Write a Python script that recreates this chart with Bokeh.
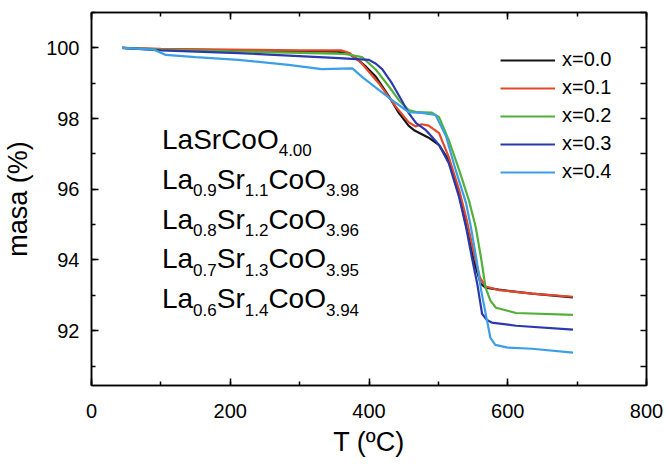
from bokeh.plotting import figure
from bokeh.models import LinearAxis, SingleIntervalTicker, Legend, LegendItem, Label
from bokeh.embed import file_html
from bokeh.resources import INLINE

# ---------------- data ----------------
temp_x00 = [44, 100, 200, 300, 355, 371, 385, 396, 410, 429, 443, 457, 465, 472, 486, 501, 515, 530, 540, 551, 561, 568, 587, 635, 694]
mass_x00 = [100.0, 99.96, 99.93, 99.91, 99.89, 99.84, 99.65, 99.46, 99.18, 98.62, 98.16, 97.8, 97.67, 97.6, 97.46, 97.25, 96.82, 95.83, 94.98, 93.99, 93.33, 93.22, 93.16, 93.05, 92.94]

temp_x01 = [44, 100, 200, 300, 360, 372, 390, 414, 439, 457, 467, 476, 486, 501, 515, 530, 540, 550, 560, 568, 587, 635, 694]
mass_x01 = [100.0, 99.97, 99.95, 99.93, 99.93, 99.85, 99.55, 99.0, 98.33, 97.9, 97.78, 97.84, 97.8, 97.59, 96.91, 95.97, 95.2, 94.3, 93.5, 93.25, 93.15, 93.05, 92.96]

temp_x02 = [44, 100, 200, 300, 365, 390, 410, 429, 443, 457, 470, 490, 501, 515, 530, 544, 554, 562, 568, 575, 583, 612, 694]
mass_x02 = [100.0, 99.95, 99.9, 99.86, 99.83, 99.74, 99.38, 98.9, 98.52, 98.24, 98.18, 98.17, 98.04, 97.39, 96.54, 95.69, 94.92, 94.0, 93.22, 92.85, 92.65, 92.5, 92.45]

temp_x03 = [44, 100, 212, 357, 400, 410, 419, 433, 447, 457, 468, 482, 490, 501, 515, 530, 540, 548, 556, 563, 570, 577, 612, 694]
mass_x03 = [100.0, 99.93, 99.85, 99.71, 99.66, 99.55, 99.4, 99.0, 98.52, 98.16, 97.87, 97.67, 97.5, 97.25, 96.74, 95.77, 94.92, 94.1, 93.33, 92.48, 92.3, 92.23, 92.14, 92.03]

temp_x04 = [44, 90, 107, 150, 212, 284, 332, 376, 390, 414, 439, 457, 476, 496, 511, 525, 540, 547, 555, 562, 570, 575, 582, 600, 635, 694]
mass_x04 = [100.0, 99.95, 99.8, 99.74, 99.66, 99.52, 99.4, 99.42, 99.18, 98.81, 98.44, 98.18, 98.16, 98.1, 97.5, 96.54, 95.6, 94.92, 94.0, 93.1, 92.3, 91.8, 91.6, 91.52, 91.49, 91.38]

series_labels = ["x=0.0", "x=0.1", "x=0.2", "x=0.3", "x=0.4"]
series_temps = [temp_x00, temp_x01, temp_x02, temp_x03, temp_x04]
series_mass = [mass_x00, mass_x01, mass_x02, mass_x03, mass_x04]
series_colors = ["#151515", "#e4482c", "#52b03a", "#2a3aae", "#3c9fe6"]

# formula annotations: (text, is_subscript)
formula_rows = [
    [("LaSrCoO", False), ("4.00", True)],
    [("La", False), ("0.9", True), ("Sr", False), ("1.1", True), ("CoO", False), ("3.98", True)],
    [("La", False), ("0.8", True), ("Sr", False), ("1.2", True), ("CoO", False), ("3.96", True)],
    [("La", False), ("0.7", True), ("Sr", False), ("1.3", True), ("CoO", False), ("3.95", True)],
    [("La", False), ("0.6", True), ("Sr", False), ("1.4", True), ("CoO", False), ("3.94", True)],
]
formula_x = 101.6
formula_baselines = [97.42, 96.28, 95.15, 94.04, 92.91]

FONT = "Liberation Sans"

p = figure(frame_width=555, frame_height=373, x_range=(0, 800), y_range=(90.45, 101.0),
           output_backend="svg", toolbar_location=None,
           min_border_left=84, min_border_right=18, min_border_top=12, min_border_bottom=70)
p.background_fill_color = "white"
p.border_fill_color = "white"
p.xgrid.visible = False
p.ygrid.visible = False
p.outline_line_color = "black"
p.outline_line_width = 1.5

def style_axis(ax, show_labels=True):
    ax.axis_line_color = "black"
    ax.axis_line_width = 1.5
    ax.major_tick_line_color = "black"
    ax.minor_tick_line_color = "black"
    ax.major_tick_line_width = 1.5
    ax.minor_tick_line_width = 1.5
    ax.major_tick_in = 7
    ax.major_tick_out = 0
    ax.minor_tick_in = 4
    ax.minor_tick_out = 0
    ax.major_label_text_font = FONT
    ax.axis_label_text_font = FONT
    ax.axis_label_text_font_style = "normal"
    ax.axis_label_text_color = "black"
    if show_labels:
        ax.major_label_text_color = "black"
        ax.major_label_text_font_size = "20px"
        ax.axis_label_text_font_size = "27px"
    else:
        ax.major_label_text_color = None
        ax.major_label_text_font_size = "10px"
        ax.major_label_standoff = 0

xa = p.xaxis[0]
xa.ticker = SingleIntervalTicker(interval=200, num_minor_ticks=2)
xa.axis_label = "T (ºC)"
style_axis(xa)
xa.major_label_standoff = 18
xa.axis_label_standoff = 6

ya = p.yaxis[0]
ya.ticker = SingleIntervalTicker(interval=2, num_minor_ticks=2)
ya.axis_label = "masa (%)"
style_axis(ya)
ya.major_label_standoff = 12
ya.axis_label_standoff = 10

top = LinearAxis(ticker=SingleIntervalTicker(interval=200, num_minor_ticks=2))
style_axis(top, False)
p.add_layout(top, "above")
right = LinearAxis(ticker=SingleIntervalTicker(interval=1, num_minor_ticks=0))
style_axis(right, False)
right.major_tick_in = 6
p.add_layout(right, "right")

items = []
for lab, tx, ms, col in zip(series_labels, series_temps, series_mass, series_colors):
    r = p.line(tx, ms, line_color=col, line_width=2.2)
    items.append(LegendItem(label=lab, renderers=[r]))

legend = Legend(items=items, location=(409, 202), padding=0, margin=0,
                border_line_color=None, background_fill_alpha=0,
                glyph_width=55, glyph_height=20, label_height=20, spacing=5,
                label_standoff=7, label_text_font=FONT, label_text_font_size="20px",
                label_text_color="black")
p.add_layout(legend, "center")

W = {'L': 0.556, 'a': 0.556, 'S': 0.667, 'r': 0.333, 'C': 0.722, 'o': 0.556, 'O': 0.778, '.': 0.278}
for d in "0123456789":
    W[d] = 0.556
MAIN_SIZE, SUB_SIZE = 28, 17
SUB_DROP = 11 / 35.35  # baseline drop of subscript in data units

for row, base in zip(formula_rows, formula_baselines):
    off = 0.0
    for txt, sub in row:
        size = SUB_SIZE if sub else MAIN_SIZE
        lbl = Label(x=formula_x, y=base - (SUB_DROP if sub else 0.0), x_offset=off, text=txt,
                    text_font=FONT, text_font_size=f"{size}px", text_color="black",
                    text_baseline="alphabetic", text_align="left")
        p.add_layout(lbl)
        off += sum(W[c] for c in txt) * size

open("out.html", "w").write(file_html(p, INLINE))
